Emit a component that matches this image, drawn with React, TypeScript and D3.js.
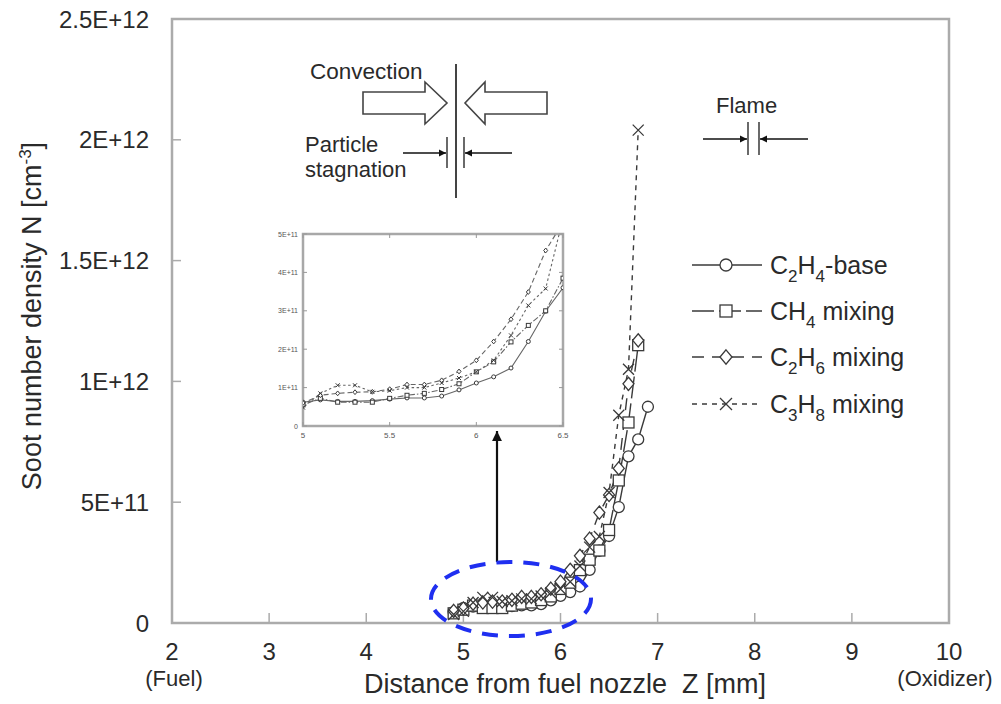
import React from "react";
import * as d3 from "d3";

// ---------- data (values in units of 1E+11 cm^-3) ----------
const zValues = [4.9, 5.0, 5.1, 5.2, 5.3, 5.4, 5.5, 5.6, 5.7, 5.8, 5.9, 6.0, 6.1, 6.2, 6.3, 6.4, 6.5, 6.6, 6.7, 6.8, 6.9];
const c2h4Base = [0.45, 0.62, 0.68, 0.64, 0.64, 0.66, 0.70, 0.73, 0.73, 0.78, 0.94, 1.12, 1.28, 1.51, 2.20, 2.99, 3.60, 4.80, 6.90, 7.60, 8.95];
const ch4Mixing = [0.40, 0.55, 0.72, 0.62, 0.62, 0.62, 0.72, 0.80, 0.85, 0.95, 1.10, 1.41, 1.67, 2.19, 2.62, 3.00, 3.85, 5.90, 8.30, 11.50];
const c2h6Mixing = [0.50, 0.60, 0.80, 0.85, 0.88, 0.89, 0.96, 1.08, 1.08, 1.19, 1.42, 1.71, 2.20, 2.78, 3.49, 4.57, 5.30, 6.40, 9.90, 11.70];
const c3h8Mixing = [0.35, 0.48, 0.85, 1.06, 1.06, 0.89, 0.92, 1.00, 1.00, 1.12, 1.25, 1.41, 1.71, 2.36, 3.14, 3.58, 5.40, 8.60, 10.50, 20.40];

const xTicks = [2, 3, 4, 5, 6, 7, 8, 9, 10];
const yTicks = [0, 5, 10, 15, 20, 25];
const yTickLabels = ["0", "5E+11", "1E+12", "1.5E+12", "2E+12", "2.5E+12"];
const insetXTicks = [5, 5.5, 6, 6.5];
const insetXTickLabels = ["5", "5.5", "6", "6.5"];
const insetYTicks = [0, 1, 2, 3, 4, 5];
const insetYTickLabels = ["0", "1E+11", "2E+11", "3E+11", "4E+11", "5E+11"];

type Sym = "circle" | "square" | "diamond" | "cross";
const seriesDefs: { key: string; values: number[]; sym: Sym; dash: string; insetDash: string }[] = [
  { key: "c2h4", values: c2h4Base, sym: "circle", dash: "none", insetDash: "none" },
  { key: "ch4", values: ch4Mixing, sym: "square", dash: "22,5", insetDash: "6,2,1.5,2" },
  { key: "c2h6", values: c2h6Mixing, sym: "diamond", dash: "12,8", insetDash: "5,3" },
  { key: "c3h8", values: c3h8Mixing, sym: "cross", dash: "5,5", insetDash: "2.5,2.5" },
];

const FONT = "'Liberation Sans', Arial, Helvetica, sans-serif";
const TXT = "#2a2a2a";
const LINE = "#3a3a3a";

function Marker({ sym, x, y, s, sw }: { sym: Sym; x: number; y: number; s: number; sw: number }) {
  if (sym === "circle") return <circle cx={x} cy={y} r={s} fill="#fff" stroke={LINE} strokeWidth={sw} />;
  if (sym === "square")
    return <rect x={x - s} y={y - s} width={2 * s} height={2 * s} fill="#fff" stroke={LINE} strokeWidth={sw} />;
  if (sym === "diamond")
    return (
      <path
        d={`M${x},${y - s * 1.2}L${x + s},${y}L${x},${y + s * 1.2}L${x - s},${y}Z`}
        fill="#fff"
        stroke={LINE}
        strokeWidth={sw}
      />
    );
  return (
    <path
      d={`M${x - s},${y - s}L${x + s},${y + s}M${x - s},${y + s}L${x + s},${y - s}`}
      stroke={LINE}
      strokeWidth={sw}
      fill="none"
    />
  );
}

export default function App() {
  const x = d3.scaleLinear().domain([2, 10]).range([172, 949]);
  const y = d3.scaleLinear().domain([0, 25]).range([623, 19]);

  const ix = d3.scaleLinear().domain([5, 6.5]).range([303, 563]);
  const iy = d3.scaleLinear().domain([0, 5]).range([426, 234]);

  const mainLine = d3
    .line<number>()
    .x((_, i) => x(zValues[i]))
    .y((d) => y(d));
  const insetLine = d3
    .line<number>()
    .x((_, i) => ix(zValues[i]))
    .y((d) => iy(d));

  const legendRows = [
    { sym: "circle" as Sym, dash: "none", y: 265, main: "C", s1: "2", mid: "H", s2: "4", rest: "-base" },
    { sym: "square" as Sym, dash: "22,5", y: 311, main: "CH", s1: "4", mid: "", s2: "", rest: " mixing" },
    { sym: "diamond" as Sym, dash: "12,8", y: 357, main: "C", s1: "2", mid: "H", s2: "6", rest: " mixing" },
    { sym: "cross" as Sym, dash: "5,5", y: 404, main: "C", s1: "3", mid: "H", s2: "8", rest: " mixing" },
  ];

  return (
    <svg
      width={1001}
      height={704}
      style={{ position: "absolute", left: 0, top: 0, background: "#fff" }}
      fontFamily={FONT}
    >
      <defs>
        <marker id="ah" viewBox="0 0 10 10" refX="10" refY="5" markerWidth="4.5" markerHeight="4.5" orient="auto">
          <path d="M0,0L10,5L0,10Z" fill="#111" />
        </marker>
        <clipPath id="insetClip">
          <rect x={303} y={234} width={260} height={192} />
        </clipPath>
        <clipPath id="mainClip">
          <rect x={172} y={19} width={777} height={604} />
        </clipPath>
      </defs>

      {/* main frame */}
      <rect x={172} y={19} width={777} height={604} fill="none" stroke="#ababab" strokeWidth={2.5} />
      {xTicks.map((t) => (
        <g key={"xt" + t}>
          <line x1={x(t)} x2={x(t)} y1={623} y2={613} stroke="#ababab" strokeWidth={1.5} />
          <text x={x(t)} y={660} textAnchor="middle" fontSize={24} fill={TXT}>
            {t}
          </text>
        </g>
      ))}
      {yTicks.map((t, i) => (
        <g key={"yt" + t}>
          <line x1={172} x2={181} y1={y(t)} y2={y(t)} stroke="#ababab" strokeWidth={1.5} />
          <text x={149} y={y(t) + 8.5} textAnchor="end" fontSize={24} fill={TXT}>
            {yTickLabels[i]}
          </text>
        </g>
      ))}
      <text x={174} y={686} textAnchor="middle" fontSize={22} fill={TXT}>
        (Fuel)
      </text>
      <text x={945} y={686} textAnchor="middle" fontSize={22} fill={TXT}>
        (Oxidizer)
      </text>
      <text x={565} y={693} textAnchor="middle" fontSize={27} fill={TXT}>
        Distance from fuel nozzle{"\u00a0\u00a0"}Z [mm]
      </text>
      <text transform="translate(41,316) rotate(-90)" textAnchor="middle" fontSize={27} fill={TXT}>
        Soot number density N [cm
        <tspan dy={-10} fontSize={17}>
          -3
        </tspan>
        <tspan dy={10}>]</tspan>
      </text>

      {/* main series */}
      <g clipPath="url(#mainClip)">
        {seriesDefs.map((s) => (
          <path
            key={"l" + s.key}
            d={mainLine(s.values) || ""}
            fill="none"
            stroke={LINE}
            strokeWidth={1.4}
            strokeDasharray={s.dash}
          />
        ))}
        {seriesDefs.map((s) => (
          <g key={"m" + s.key}>
            {s.values.map((v, i) => (
              <Marker key={i} sym={s.sym} x={x(zValues[i])} y={y(v)} s={5.5} sw={1.3} />
            ))}
          </g>
        ))}
      </g>

      {/* inset */}
      <rect x={303} y={234} width={260} height={192} fill="#fff" stroke="#a8a8a8" strokeWidth={2.5} />
      {insetXTicks.map((t, i) => (
        <g key={"ixt" + t}>
          <line x1={ix(t)} x2={ix(t)} y1={426} y2={422} stroke="#999" strokeWidth={1} />
          <line x1={ix(t)} x2={ix(t)} y1={234} y2={238} stroke="#999" strokeWidth={1} />
          <text x={ix(t)} y={438} textAnchor="middle" fontSize={8} fill="#555">
            {insetXTickLabels[i]}
          </text>
        </g>
      ))}
      {insetYTicks.map((t, i) => (
        <g key={"iyt" + t}>
          <line x1={303} x2={307} y1={iy(t)} y2={iy(t)} stroke="#999" strokeWidth={1} />
          <line x1={563} x2={559} y1={iy(t)} y2={iy(t)} stroke="#999" strokeWidth={1} />
          <text x={298} y={iy(t) + 2.5} textAnchor="end" fontSize={7} fill="#555">
            {insetYTickLabels[i]}
          </text>
        </g>
      ))}
      <g clipPath="url(#insetClip)">
        {seriesDefs.map((s) => (
          <path
            key={"il" + s.key}
            d={insetLine(s.values) || ""}
            fill="none"
            stroke="#666"
            strokeWidth={1.1}
            strokeDasharray={s.insetDash}
          />
        ))}
        {seriesDefs.map((s) => (
          <g key={"im" + s.key}>
            {s.values.map((v, i) => (
              <Marker key={i} sym={s.sym} x={ix(zValues[i])} y={iy(v)} s={2} sw={1} />
            ))}
          </g>
        ))}
      </g>

      {/* arrow from ellipse to inset */}
      <line x1={497} y1={562} x2={497} y2={431} stroke="#111" strokeWidth={2.2} markerEnd="url(#ah)" />
      {/* blue dashed ellipse */}
      <ellipse
        cx={511}
        cy={599}
        rx={80}
        ry={37}
        fill="none"
        stroke="#1f2ff0"
        strokeWidth={4}
        strokeDasharray="16,11"
      />

      {/* convection annotation */}
      <text x={310} y={79} fontSize={22.5} fill={TXT}>
        Convection
      </text>
      <line x1={456} y1={64} x2={456} y2={198} stroke="#444" strokeWidth={2} />
      <path d="M363,92L425,92L425,82L447,103L425,124L425,114L363,114Z" fill="#fff" stroke="#444" strokeWidth={1.6} />
      <path d="M547,92L485,92L485,82L465,103L485,124L485,114L547,114Z" fill="#fff" stroke="#444" strokeWidth={1.6} />
      <text x={305} y={152} fontSize={22} fill={TXT}>
        Particle
      </text>
      <text x={305} y={177} fontSize={22} fill={TXT}>
        stagnation
      </text>
      <line x1={447} y1={137} x2={447} y2={168} stroke="#444" strokeWidth={1.6} />
      <line x1={464} y1={137} x2={464} y2={168} stroke="#444" strokeWidth={1.6} />
      <line x1={403} y1={153} x2={446} y2={153} stroke="#111" strokeWidth={1.6} markerEnd="url(#ah)" />
      <line x1={512} y1={153} x2={465} y2={153} stroke="#111" strokeWidth={1.6} markerEnd="url(#ah)" />

      {/* flame annotation */}
      <text x={716} y={113} fontSize={22} fill={TXT}>
        Flame
      </text>
      <line x1={748} y1={122} x2={748} y2={155} stroke="#444" strokeWidth={1.6} />
      <line x1={759} y1={122} x2={759} y2={155} stroke="#444" strokeWidth={1.6} />
      <line x1={703} y1={139} x2={747} y2={139} stroke="#111" strokeWidth={1.6} markerEnd="url(#ah)" />
      <line x1={808} y1={139} x2={760} y2={139} stroke="#111" strokeWidth={1.6} markerEnd="url(#ah)" />

      {/* legend */}
      {legendRows.map((r, i) => (
        <g key={"lg" + i}>
          <line x1={692} x2={762} y1={r.y} y2={r.y} stroke={LINE} strokeWidth={1.3} strokeDasharray={r.dash} />
          <Marker sym={r.sym} x={726} y={r.y} s={6} sw={1.3} />
          <text x={770} y={r.y + 9} fontSize={25} fill={TXT}>
            {r.main}
            <tspan dy={8} fontSize={17}>
              {r.s1}
            </tspan>
            {r.mid ? <tspan dy={-8}>{r.mid}</tspan> : null}
            {r.s2 ? (
              <tspan dy={8} fontSize={17}>
                {r.s2}
              </tspan>
            ) : null}
            <tspan dy={-8}>{r.rest}</tspan>
          </text>
        </g>
      ))}
    </svg>
  );
}
